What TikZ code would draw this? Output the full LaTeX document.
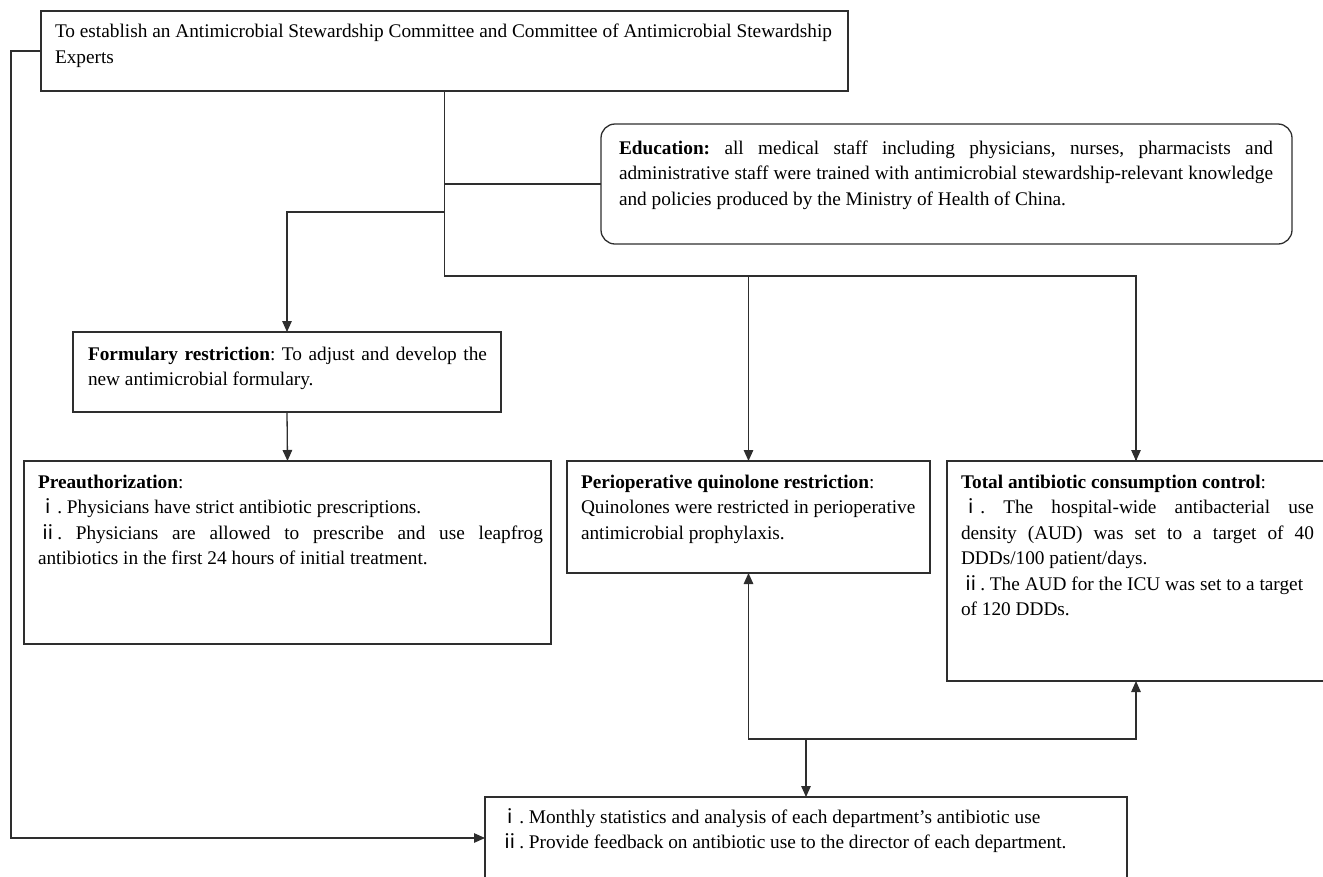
\documentclass[tikz,border=0pt]{standalone}
\usepackage{fontspec}
\setmainfont{Liberation Serif}
\newfontfamily\cjk{Noto Sans CJK SC}
\usetikzlibrary{arrows.meta,calc}
\definecolor{lc}{gray}{0.18}
\newcommand{\rone}{{\cjk ⅰ}}
\newcommand{\rtwo}{{\cjk ⅱ}}
\newcommand{\jl}[2]{\makebox[#1pt][s]{#2}}
\tikzset{
  box/.style={draw=lc, line width=1.3pt, inner sep=0pt, outer sep=0pt, anchor=north west},
  txt/.style={inner sep=0pt, outer sep=0pt, anchor=north west, align=left, font=\fontsize{19.3}{25.5}\selectfont\frenchspacing},
  conn/.style={draw=lc, line width=1.3pt},
  arr/.style={conn, -{Triangle[length=11pt,width=9.5pt]}},
}
\begin{document}
\begin{tikzpicture}[x=1pt,y=-1pt]
\useasboundingbox (0,0) rectangle (1323,876);
\clip (0,0) rectangle (1323,876);
% boxes
\node[box, minimum width=807pt, minimum height=80pt] (T) at (41,11) {};
\node[box, rounded corners=14pt, minimum width=691pt, minimum height=120pt] (E) at (601,124) {};
\node[box, minimum width=428pt, minimum height=80pt] (F) at (73,332) {};
\node[box, minimum width=527pt, minimum height=183pt] (P) at (24,461) {};
\node[box, minimum width=363pt, minimum height=112pt] (Q) at (567,461) {};
\node[box, minimum width=400pt, minimum height=220pt] (C) at (947,461) {};
\node[box, minimum width=642pt, minimum height=100pt] (B) at (485,797) {};
% texts
\node[txt] (Tt) at (55,19.65) {\strut To establish an Antimicrobial Stewardship Committee and Committee of Antimicrobial Stewardship\\Experts};
\node[txt] (Et) at (619,136.15) {\strut\jl{654}{\textbf{Education:} all medical staff including physicians, nurses, pharmacists and}\\
\jl{654}{administrative staff were trained with antimicrobial stewardship-relevant knowledge}\\
and policies produced by the Ministry of Health of China.};
\node[txt] (Ft) at (88,342.15) {\strut\jl{399}{\textbf{Formulary restriction}: To adjust and develop the}\\
new antimicrobial formulary.};
\node[txt] (Pt) at (38,470.15) {\strut\textbf{Preauthorization}:\\
\rone. Physicians have strict antibiotic prescriptions.\\
\jl{505}{\rtwo. Physicians are allowed to prescribe and use leapfrog}\\
antibiotics in the first 24 hours of initial treatment.};
\node[txt] (Qt) at (581,470.15) {\strut\textbf{Perioperative quinolone restriction}:\\
Quinolones were restricted in perioperative\\
antimicrobial prophylaxis.};
\node[txt] (Ct) at (961,470.15) {\strut\textbf{Total antibiotic consumption control}:\\
\jl{353}{\rone. The hospital-wide antibacterial use}\\
\jl{353}{density (AUD) was set to a target of 40}\\
DDDs/100 patient/days.\\
\rtwo. The AUD for the ICU was set to a target\\
of 120 DDDs.};
\node[txt, font=\fontsize{19.3}{25}\selectfont\frenchspacing] (Bt) at (500,806.15) {\strut\rone. Monthly statistics and analysis of each department’s antibiotic use\\
\rtwo. Provide feedback on antibiotic use to the director of each department.};
% junction coordinates
\coordinate (jE) at (T.south |- E.west);
\coordinate (jF) at ($(T.south)+(0,121)$);
\coordinate (jH) at ($(T.south)+(0,185)$);
\coordinate (jQ) at (Q.north |- jH);
\coordinate (cT) at ($(C.north west)+(189,0)$);
\coordinate (cB) at ($(C.south west)+(189,0)$);
\coordinate (jB) at ($(B.north)+(0,-58)$);
\coordinate (lx) at (11,0);
% connectors
\draw[conn] (T.south) -- (jH) -| (cT);
\draw[arr] (jQ) -- (Q.north);
\draw[arr] (jH -| cT) -- (cT);
\draw[conn] (jE) -- (E.west);
\draw[arr] (jF) -| (F.north);
\draw[arr] (F.south) -- (P.north);
\draw[arr] (jB) -| (Q.south);
\draw[arr] (jB) -| (cB);
\draw[arr] (jB) -- (B.north);
\draw[arr] (T.west) -| ($(lx)+(0,838)$) -- ($(B.north west)+(0,41)$);
\end{tikzpicture}
\end{document}
